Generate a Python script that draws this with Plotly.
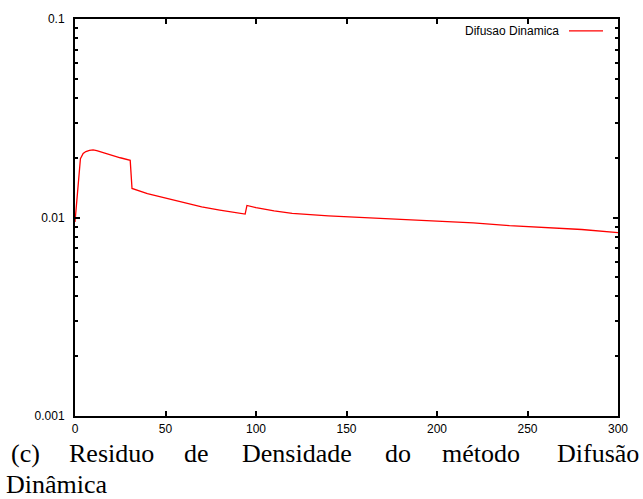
import plotly.graph_objects as go

# Density residual history for the dynamic diffusion method
iteracao = [0, 1, 2, 3, 4.5, 6, 8, 10, 12, 15, 17, 20, 25, 30.5, 31.5, 40, 50, 60, 70,
            80, 90, 94, 95, 100, 110, 120, 140, 160, 180, 200, 220, 240, 260, 280, 300]
residuo = [0.0095, 0.0125, 0.0165, 0.0198, 0.0210, 0.0215, 0.0218, 0.0219, 0.0217,
           0.0213, 0.0209, 0.0205, 0.0200, 0.0194, 0.0140, 0.0132, 0.0125, 0.0119,
           0.0113, 0.0109, 0.01055, 0.0104, 0.0115, 0.0112, 0.0108, 0.0105, 0.0102,
           0.0100, 0.0098, 0.0096, 0.0094, 0.0091, 0.0089, 0.0087, 0.0084]

serie_nome = "Difusao Dinamica"
x_ticks = [0, 50, 100, 150, 200, 250, 300]
y_ticks = [0.001, 0.01, 0.1]
y_ticktext = ["0.001", "0.01", "0.1"]
y_minor = [m * 10 ** e for e in (-3, -2) for m in range(2, 10)]

caption_words = ["(c)", "Residuo", "de", "Densidade", "do", "método", "Difusão"]
caption_line2 = "Dinâmica"

W, H = 643, 499
L, R, T, B = 75, 25, 16, 83
pw, ph = W - L - R, H - T - B


def px_x(px):
    return (px - L) / pw


def px_y(py):
    return (H - B - py) / ph


fig = go.Figure()
fig.add_trace(go.Scatter(x=iteracao, y=residuo, mode="lines", name=serie_nome,
                         line=dict(color="#ff0000", width=1.3), showlegend=False))

tick_font = dict(family="Liberation Sans, Arial, sans-serif", size=12, color="#000000")

fig.update_xaxes(range=[0, 300], tickvals=x_ticks, ticks="inside", ticklen=5, tickwidth=1.5,
                 tickcolor="black", showline=True, linecolor="black", linewidth=2,
                 mirror="ticks", showgrid=False, zeroline=False, tickfont=tick_font,
                 ticklabelstandoff=1)
fig.update_yaxes(type="log", range=[-3, -1], tickvals=y_ticks, ticktext=y_ticktext,
                 ticks="inside", ticklen=5, tickwidth=1.5, tickcolor="black",
                 showline=True, linecolor="black", linewidth=2, mirror="ticks",
                 showgrid=False, zeroline=False, tickfont=tick_font, ticklabelstandoff=6,
                 minor=dict(tickvals=y_minor, ticks="inside", ticklen=3, tickwidth=1.5,
                            tickcolor="black", showgrid=False))

# key in the top-right corner: label then sample line
fig.add_annotation(xref="paper", yref="paper", x=px_x(561), y=px_y(28), text=serie_nome,
                   showarrow=False, xanchor="right", yanchor="middle",
                   font=dict(family="Liberation Sans, Arial, sans-serif", size=12, color="black"))
fig.add_shape(type="line", xref="paper", yref="paper", x0=px_x(569), x1=px_x(603),
              y0=px_y(28), y1=px_y(28), line=dict(color="#ff0000", width=1.3))

# justified caption below the plot
cap_font = dict(family="Liberation Serif, Times New Roman, serif", size=26, color="black")
word_centers = [25, 111, 196, 297, 398, 481, 598]
for word, cx in zip(caption_words, word_centers):
    fig.add_annotation(xref="paper", yref="paper", x=px_x(cx), y=px_y(454), text=word,
                       showarrow=False, xanchor="center", yanchor="middle", font=cap_font)
fig.add_annotation(xref="paper", yref="paper", x=px_x(4), y=px_y(485), text=caption_line2,
                   showarrow=False, xanchor="left", yanchor="middle", font=cap_font)

fig.update_layout(width=W, height=H, margin=dict(l=L, r=R, t=T, b=B),
                  paper_bgcolor="white", plot_bgcolor="white")

fig.write_html("out.html")
